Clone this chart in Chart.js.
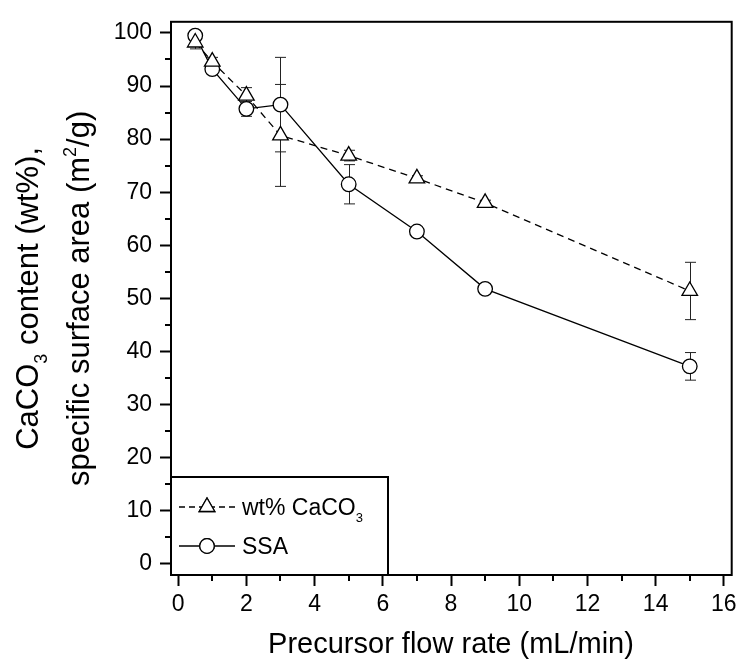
<!DOCTYPE html>
<html>
<head>
<meta charset="utf-8">
<script src="https://cdn.jsdelivr.net/npm/chart.js@4.4.1/dist/chart.umd.min.js"></script>
<style>
  html, body { margin: 0; padding: 0; background: #fff; }
  #wrap { width: 742px; height: 666px; position: relative; }
</style>
</head>
<body>
<div id="wrap"><canvas id="chart" width="742" height="666"></canvas></div>
<script>
// data
const flowRate = [0.5, 1, 2, 3, 5, 7, 9, 15]
const wtCaCO3 = [98.2, 94.6, 88.2, 80.7, 76.9, 72.6, 68.0, 51.4]
const wtErr = [1.2, 0.8, 1.5, 9.6, 1.0, 0.5, 0.5, 5.4]
const ssa = [99.5, 93.2, 85.7, 86.5, 71.5, 62.6, 51.8, 37.2]
const ssaErr = [0.5, 0.5, 1.4, 8.9, 3.7, 0.5, 0.5, 2.6]
const xMajor = [0, 2, 4, 6, 8, 10, 12, 14, 16]
const yMajor = [0, 10, 20, 30, 40, 50, 60, 70, 80, 90, 100]

const FONT = "'Liberation Sans', Arial, sans-serif"

function pts(xs, ys) {
    return xs.map((x, i) => ({ x: x, y: ys[i] }))
}

// text with sub/superscript pieces, baseline at y=0; align "center" or "left"
function richText(ctx, parts, size, align) {
    const small = Math.round(size * 0.58)
    let total = 0
    parts.forEach(p => {
        ctx.font = (p.sub || p.sup ? small : size) + "px " + FONT
        p.w = ctx.measureText(p.t).width
        total += p.w
    })
    let x = align == "left" ? 0 : -total / 2
    ctx.textBaseline = "alphabetic"
    ctx.textAlign = "left"
    parts.forEach(p => {
        ctx.font = (p.sub || p.sup ? small : size) + "px " + FONT
        let dy = 0
        if (p.sub) dy = size * 0.3
        if (p.sup) dy = -size * 0.43
        ctx.fillText(p.t, x, dy)
        x += p.w
    })
}

const errorBars = {
    id: "errorBars",
    beforeDatasetsDraw(chart) {
        const ctx = chart.ctx, xs = chart.scales.x, ys = chart.scales.y
        ctx.save()
        ctx.strokeStyle = "#222"
        ctx.lineWidth = 1
        const sets = [[wtCaCO3, wtErr], [ssa, ssaErr]]
        sets.forEach(s => {
            flowRate.forEach((fx, i) => {
                const px = Math.round(xs.getPixelForValue(fx)) + 0.5
                const top = ys.getPixelForValue(s[0][i] + s[1][i])
                const bot = ys.getPixelForValue(s[0][i] - s[1][i])
                ctx.beginPath()
                ctx.moveTo(px, top); ctx.lineTo(px, bot)
                ctx.moveTo(px - 5.5, top); ctx.lineTo(px + 5.5, top)
                ctx.moveTo(px - 5.5, bot); ctx.lineTo(px + 5.5, bot)
                ctx.stroke()
            })
        })
        ctx.restore()
    }
}

const decor = {
    id: "decor",
    afterDraw(chart) {
        const ctx = chart.ctx, a = chart.chartArea
        const xs = chart.scales.x, ys = chart.scales.y
        ctx.save()
        ctx.strokeStyle = "#000"
        ctx.fillStyle = "#000"
        // minor ticks
        ctx.lineWidth = 2
        ctx.beginPath()
        for (let v = 1; v < 16; v += 2) {
            const px = Math.round(xs.getPixelForValue(v))
            ctx.moveTo(px, a.bottom); ctx.lineTo(px, a.bottom + 6)
        }
        for (let v = 5; v < 100; v += 10) {
            const py = Math.round(ys.getPixelForValue(v))
            ctx.moveTo(a.left, py); ctx.lineTo(a.left - 6, py)
        }
        ctx.stroke()
        // frame
        ctx.strokeRect(a.left, a.top, a.right - a.left, a.bottom - a.top)

        // legend box
        const lx = a.left, ly = 477, lw = 217, lh = a.bottom - 477
        ctx.fillStyle = "#fff"
        ctx.fillRect(lx, ly, lw, lh)
        ctx.strokeRect(lx, ly, lw, lh)
        ctx.fillStyle = "#000"
        const rows = [
            { y: 507, dash: [6, 4], style: "triangle", r: 9, parts: [{ t: "wt% CaCO" }, { t: "3", sub: true }] },
            { y: 546, dash: [], style: "circle", r: 7.3, parts: [{ t: "SSA" }] }
        ]
        rows.forEach(row => {
            ctx.lineWidth = 1.3
            ctx.setLineDash(row.dash)
            ctx.beginPath()
            ctx.moveTo(a.left + 8, row.y); ctx.lineTo(a.left + 64, row.y)
            ctx.stroke()
            ctx.setLineDash([])
            ctx.fillStyle = "#fff"
            Chart.helpers.drawPoint(ctx, { pointStyle: row.style, radius: row.r, borderWidth: 1.3, rotation: 0 }, a.left + 36, row.y)
            ctx.fill()
            ctx.stroke()
            ctx.fillStyle = "#000"
            ctx.save()
            ctx.translate(a.left + 71, row.y + 8)
            richText(ctx, row.parts, 23, "left")
            ctx.restore()
        })

        // axis titles
        ctx.save()
        ctx.font = "29px " + FONT
        ctx.textAlign = "center"
        ctx.textBaseline = "alphabetic"
        ctx.fillText("Precursor flow rate (mL/min)", 451, 653)
        ctx.restore()

        const cy = (a.top + a.bottom) / 2
        ctx.save()
        ctx.translate(38, cy)
        ctx.rotate(-Math.PI / 2)
        richText(ctx, [{ t: "CaCO" }, { t: "3", sub: true }, { t: " content (wt%)," }], 31)
        ctx.restore()
        ctx.save()
        ctx.translate(89, cy)
        ctx.rotate(-Math.PI / 2)
        richText(ctx, [{ t: "specific surface area (m" }, { t: "2", sup: true }, { t: "/g)" }], 31)
        ctx.restore()
        ctx.restore()
    }
}

new Chart(document.getElementById("chart"), {
    type: "line",
    data: {
        datasets: [
            {
                label: "wt% CaCO3",
                data: pts(flowRate, wtCaCO3),
                borderColor: "#000",
                borderWidth: 1.3,
                borderDash: [7, 5],
                pointStyle: "triangle",
                pointRadius: 9,
                pointBorderWidth: 1.3,
                pointBackgroundColor: "#fff",
                pointBorderColor: "#000",
                tension: 0
            },
            {
                label: "SSA",
                data: pts(flowRate, ssa),
                borderColor: "#000",
                borderWidth: 1.3,
                pointStyle: "circle",
                pointRadius: 7.3,
                pointBorderWidth: 1.3,
                pointBackgroundColor: "#fff",
                pointBorderColor: "#000",
                tension: 0
            }
        ]
    },
    options: {
        responsive: false,
        animation: false,
        layout: { padding: { top: 16, right: 7, left: 0, bottom: 0 } },
        plugins: { legend: { display: false }, tooltip: { enabled: false } },
        scales: {
            x: {
                type: "linear",
                min: -0.21,
                max: 16.23,
                afterFit: s => { s.height = 91 },
                afterBuildTicks: s => { s.ticks = xMajor.map(v => ({ value: v })) },
                ticks: { color: "#000", font: { family: FONT, size: 23 }, padding: 5, includeBounds: false },
                grid: { drawOnChartArea: false, tickLength: 11, tickWidth: 2, tickColor: "#000" },
                border: { color: "#000", width: 2 }
            },
            y: {
                min: -2.1,
                max: 102.1,
                afterFit: s => { s.width = 171 },
                afterBuildTicks: s => { s.ticks = yMajor.map(v => ({ value: v })) },
                ticks: { color: "#000", font: { family: FONT, size: 23 }, padding: 8, includeBounds: false },
                grid: { drawOnChartArea: false, tickLength: 11, tickWidth: 2, tickColor: "#000" },
                border: { color: "#000", width: 2 }
            }
        }
    },
    plugins: [errorBars, decor]
})
</script>
</body>
</html>
